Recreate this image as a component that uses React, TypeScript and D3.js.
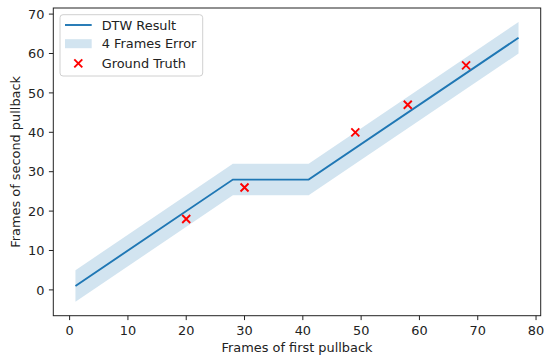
import React from "react";
import * as d3 from "d3";

// DTW warping path vertices (first pullback frame, second pullback frame)
const dtwX = [1, 28, 41, 77];
const dtwY = [1, 28, 28, 64];
const errorFrames = 4;

// ground truth correspondences
const gtX = [20, 30, 49, 58, 68];
const gtY = [18, 26, 40, 47, 57];

const xTicks = [0, 10, 20, 30, 40, 50, 60, 70, 80];
const yTicks = [0, 10, 20, 30, 40, 50, 60, 70];

const W = 550;
const H = 362;
const plot = { left: 53.3, right: 540.7, top: 8, bottom: 315.7 };
const blue = "#1f77b4";
const font = "DejaVu Sans, sans-serif";
const fs = 12.9;

export default function App() {
	const x = d3.scaleLinear().domain([-2.8, 80.8]).range([plot.left, plot.right]);
	const y = d3.scaleLinear().domain([-6.55, 71.55]).range([plot.bottom, plot.top]);

	const pts = dtwX.map((v, i) => [v, dtwY[i]] as [number, number]);
	const line = d3
		.line<[number, number]>()
		.x((d) => x(d[0]))
		.y((d) => y(d[1]));
	const band = d3
		.area<[number, number]>()
		.x((d) => x(d[0]))
		.y0((d) => y(d[1] - errorFrames))
		.y1((d) => y(d[1] + errorFrames));

	const cross = (cx: number, cy: number, key: string | number) => {
		const s = 4;
		return (
			<path
				key={key}
				d={`M${cx - s},${cy - s}L${cx + s},${cy + s}M${cx - s},${cy + s}L${cx + s},${cy - s}`}
				stroke="red"
				strokeWidth={1.9}
				fill="none"
			/>
		);
	};

	const legendRows = [25, 43.7, 63.3];

	return (
		<svg width={W} height={H} style={{ position: "absolute", left: 0, top: 0, background: "white" }} fontFamily={font}>
			<rect width={W} height={H} fill="white" />
			<path d={band(pts) ?? ""} fill={blue} fillOpacity={0.2} />
			<path d={line(pts) ?? ""} fill="none" stroke={blue} strokeWidth={1.9} />
			{gtX.map((v, i) => cross(x(v), y(gtY[i]), i))}

			{/* spines */}
			<rect
				x={plot.left}
				y={plot.top}
				width={plot.right - plot.left}
				height={plot.bottom - plot.top}
				fill="none"
				stroke="#222"
				strokeWidth={1}
			/>

			{/* x axis */}
			{xTicks.map((t) => (
				<g key={"x" + t} transform={`translate(${x(t)},${plot.bottom})`}>
					<line y2={4.4} stroke="#222" />
					<text y={19.3} textAnchor="middle" fontSize={fs} fill="#222">
						{t}
					</text>
				</g>
			))}
			<text x={(plot.left + plot.right) / 2} y={352} textAnchor="middle" fontSize={fs} fill="#222">
				Frames of first pullback
			</text>

			{/* y axis */}
			{yTicks.map((t) => (
				<g key={"y" + t} transform={`translate(${plot.left},${y(t)})`}>
					<line x2={-4.4} stroke="#222" />
					<text x={-8.8} dy="0.36em" textAnchor="end" fontSize={fs} fill="#222">
						{t}
					</text>
				</g>
			))}
			<text
				transform={`translate(19.5,${(plot.top + plot.bottom) / 2}) rotate(-90)`}
				textAnchor="middle"
				fontSize={fs}
				fill="#222"
			>
				Frames of second pullback
			</text>

			{/* legend */}
			<rect x={60} y={14.7} width={142.7} height={61.3} rx={3} fill="white" fillOpacity={0.8} stroke="#d0d0d0" />
			<line x1={65} x2={91.7} y1={legendRows[0]} y2={legendRows[0]} stroke={blue} strokeWidth={1.9} />
			<rect x={65} y={legendRows[1] - 4.5} width={26.7} height={9} fill={blue} fillOpacity={0.2} />
			{cross(78.3, legendRows[2], "leg")}
			{["DTW Result", "4 Frames Error", "Ground Truth"].map((s, i) => (
				<text key={s} x={101.7} y={legendRows[i]} dy="0.36em" fontSize={fs} fill="#222">
					{s}
				</text>
			))}
		</svg>
	);
}
